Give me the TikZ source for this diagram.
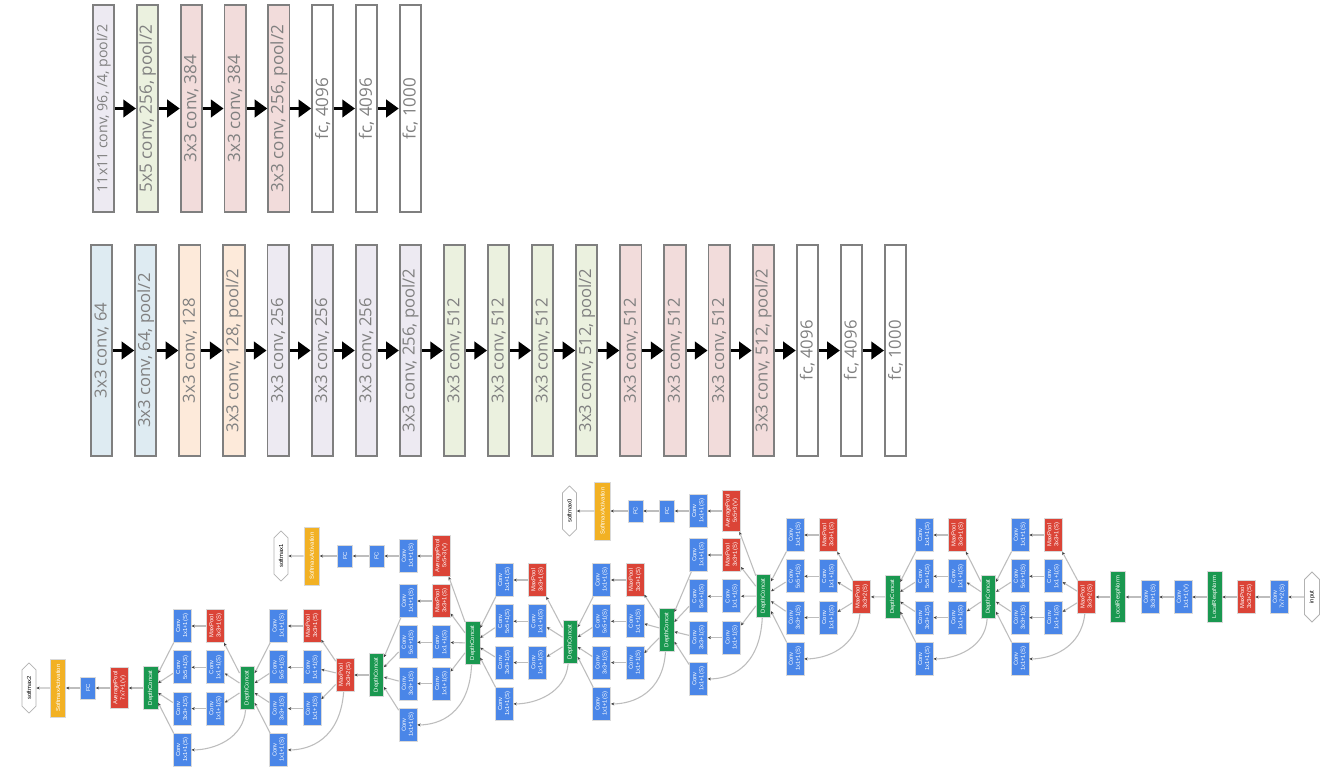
\documentclass[tikz,border=0pt]{standalone}
\usepackage{fontspec}
\setmainfont{Open Sans}
\newfontfamily\gf{Liberation Sans}
\usetikzlibrary{arrows.meta,shapes.misc}
\definecolor{gblue}{HTML}{4A86E8}
\definecolor{gred}{HTML}{DB4437}
\definecolor{ggreen}{HTML}{1A9850}
\definecolor{gyellow}{HTML}{F2B124}
\definecolor{cLav}{HTML}{EDEAF2}
\definecolor{cGrn}{HTML}{EBF1DF}
\definecolor{cPnk}{HTML}{F2DCDB}
\definecolor{cBlu}{HTML}{DEEBF2}
\definecolor{cOrg}{HTML}{FDEADA}
\definecolor{bord}{HTML}{7F7F7F}
\definecolor{txt}{HTML}{808080}
\definecolor{edgec}{HTML}{BDBDBD}
\newcommand\incep[5]{%
  \node[mpool] (#1m) at (#3,#4) {MaxPool\\3x3+1(S)};
  \node[conv] (#1p) at (#3,{#4+41.3}) {Conv\\1x1+1(S)};
  \node[conv] (#1q) at (#3,{#4+82.6}) {Conv\\1x1+1(S)};
  \node[conv] (#1a) at ({#3-33.3},#4) {Conv\\1x1+1(S)};
  \node[conv] (#1b) at ({#3-33.3},{#4+41.3}) {Conv\\5x5+1(S)};
  \node[conv] (#1c) at ({#3-33.3},{#4+82.6}) {Conv\\3x3+1(S)};
  \node[conv] (#1d) at ({#3-33.3},{#4+123.9}) {Conv\\1x1+1(S)};
  \node[dcat] (#1o) at ({#3-64.9},#5) {DepthConcat};
  \draw[edge] (#2) -- (#1m);
  \draw[edge] (#2) -- (#1p);
  \draw[edge] (#2) -- (#1q);
  \draw[edge] (#2) .. controls ({#3+28},{#4+113}) and ({#3-2},{#4+123.9}) .. (#1d);
  \draw[edge] (#1m) -- (#1a);
  \draw[edge] (#1p) -- (#1b);
  \draw[edge] (#1q) -- (#1c);
  \draw[edge] (#1a) -- (#1o);
  \draw[edge] (#1b) -- (#1o);
  \draw[edge] (#1c) -- (#1o);
  \draw[edge] (#1d) -- (#1o);
}
\begin{document}
\begin{tikzpicture}[x=0.75pt,y=-0.75pt,
  layer/.style={rotate=90, draw=bord, line width=1.4pt, text=txt, inner sep=0pt, minimum height=15.9pt},
  alex/.style={layer, minimum width=155.4pt, font=\fontsize{12.8}{14}\selectfont},
  vgg/.style={layer, minimum width=158.3pt, font=\fontsize{12.5}{14}\selectfont},
  bigarrow/.style={line width=2.6pt, -{Triangle[length=9.5pt,width=13pt]}},
  g/.style={rotate=90, inner sep=0pt, align=center, text=white, draw=black!15, line width=0.5pt, font=\gf\fontsize{4.4}{5.3}\selectfont},
  conv/.style={g, fill=gblue, minimum width=24.75pt, minimum height=13.5pt},
  mpool/.style={conv, fill=gred},
  apool/.style={g, fill=gred, minimum width=30.75pt, minimum height=13.5pt},
  dcat/.style={g, fill=ggreen, minimum width=32.25pt, minimum height=10.9pt},
  lrn/.style={g, fill=ggreen, minimum width=38.25pt, minimum height=11.25pt},
  fcn/.style={g, fill=gblue, minimum width=16.5pt, minimum height=11.25pt},
  sact/.style={g, fill=gyellow, minimum width=43.5pt, minimum height=11.6pt},
  smax/.style={g, chamfered rectangle, chamfered rectangle xsep=3pt, fill=white, draw=black!30, line width=0.6pt, text=black, minimum width=37.5pt, minimum height=10.5pt},
  edge/.style={draw=edgec, line width=0.8pt, -{Stealth[length=2.4pt,width=2.2pt,color=black!75]}},
]
\useasboundingbox (0,0) rectangle (1330,779);
\fill[white] (0,0) rectangle (1330,779);
% ---------- AlexNet ----------
\node[alex, fill=cLav, font=\fontsize{10.6}{12}\selectfont] (al1) at (103.7,108.5) {11x11 conv, 96, /4, pool/2};
\node[alex, fill=cGrn] (al2) at (147.5,108.5) {5x5 conv, 256, pool/2};
\node[alex, fill=cPnk] (al3) at (191.3,108.5) {3x3 conv, 384};
\node[alex, fill=cPnk] (al4) at (235.1,108.5) {3x3 conv, 384};
\node[alex, fill=cPnk] (al5) at (278.9,108.5) {3x3 conv, 256, pool/2};
\node[alex, fill=white] (al6) at (322.7,108.5) {fc, 4096};
\node[alex, fill=white] (al7) at (366.5,108.5) {fc, 4096};
\node[alex, fill=white] (al8) at (410.3,108.5) {fc, 1000};
\foreach \i [evaluate=\i as \j using int(\i+1)] in {1,...,7} \draw[bigarrow] (al\i) -- (al\j);
% ---------- VGG ----------
\node[vgg, fill=cBlu] (vg1) at (101.7,350.5) {3x3 conv, 64};
\node[vgg, fill=cBlu] (vg2) at (145.8,350.5) {3x3 conv, 64, pool/2};
\node[vgg, fill=cOrg] (vg3) at (189.9,350.5) {3x3 conv, 128};
\node[vgg, fill=cOrg] (vg4) at (234.0,350.5) {3x3 conv, 128, pool/2};
\node[vgg, fill=cLav] (vg5) at (278.1,350.5) {3x3 conv, 256};
\node[vgg, fill=cLav] (vg6) at (322.2,350.5) {3x3 conv, 256};
\node[vgg, fill=cLav] (vg7) at (366.3,350.5) {3x3 conv, 256};
\node[vgg, fill=cLav] (vg8) at (410.4,350.5) {3x3 conv, 256, pool/2};
\node[vgg, fill=cGrn] (vg9) at (454.5,350.5) {3x3 conv, 512};
\node[vgg, fill=cGrn] (vg10) at (498.6,350.5) {3x3 conv, 512};
\node[vgg, fill=cGrn] (vg11) at (542.7,350.5) {3x3 conv, 512};
\node[vgg, fill=cGrn] (vg12) at (586.8,350.5) {3x3 conv, 512, pool/2};
\node[vgg, fill=cPnk] (vg13) at (630.9,350.5) {3x3 conv, 512};
\node[vgg, fill=cPnk] (vg14) at (675.0,350.5) {3x3 conv, 512};
\node[vgg, fill=cPnk] (vg15) at (719.1,350.5) {3x3 conv, 512};
\node[vgg, fill=cPnk] (vg16) at (763.2,350.5) {3x3 conv, 512, pool/2};
\node[vgg, fill=white] (vg17) at (807.3,350.5) {fc, 4096};
\node[vgg, fill=white] (vg18) at (851.4,350.5) {fc, 4096};
\node[vgg, fill=white] (vg19) at (895.5,350.5) {fc, 1000};
\foreach \i [evaluate=\i as \j using int(\i+1)] in {1,...,18} \draw[bigarrow] (vg\i) -- (vg\j);
% ---------- GoogLeNet stem ----------
\node[smax] (inp) at (1312,597) {input};
\node[conv] (s1) at (1279,597) {Conv\\7x7+2(S)};
\node[mpool] (s2) at (1246,597) {MaxPool\\3x3+2(S)};
\node[lrn] (s3) at (1214.5,597) {LocalRespNorm};
\node[conv] (s4) at (1183,597) {Conv\\1x1+1(V)};
\node[conv] (s5) at (1150,597) {Conv\\3x3+1(S)};
\node[lrn] (s6) at (1118,597) {LocalRespNorm};
\node[mpool] (s7) at (1086.5,597) {MaxPool\\3x3+2(S)};
\draw[edge] (inp) -- (s1);
\draw[edge] (s1) -- (s2);
\draw[edge] (s2) -- (s3);
\draw[edge] (s3) -- (s4);
\draw[edge] (s4) -- (s5);
\draw[edge] (s5) -- (s6);
\draw[edge] (s6) -- (s7);
% ---------- inception modules ----------
\incep{mA}{s7}{1053.3}{535}{596.7}
\incep{mB}{mAo}{957.5}{535}{596.7}
\node[mpool] (p3) at (861.7,597) {MaxPool\\3x3+2(S)};
\draw[edge] (mBo) -- (p3);
\incep{mC}{p3}{828.3}{535}{596}
\incep{mD}{mCo}{731.7}{555}{630}
\incep{mE}{mDo}{635}{580}{642}
\incep{mF}{mEo}{537.5}{580}{643}
\incep{mG}{mFo}{441.3}{601}{675}
\node[mpool] (p4) at (345,675) {MaxPool\\3x3+2(S)};
\draw[edge] (mGo) -- (p4);
\incep{mH}{p4}{312}{626}{688}
\incep{mI}{mHo}{215.5}{626}{688}
% ---------- final classifier ----------
\node[apool] (fa) at (119.5,688) {AveragePool\\7x7+1(V)};
\node[fcn] (ff) at (88,688) {FC};
\node[sact] (fs) at (58,688) {SoftmaxActivation};
\node[smax] (fm) at (29,688) {softmax2};
\draw[edge] (mIo) -- (fa);
\draw[edge] (fa) -- (ff);
\draw[edge] (ff) -- (fs);
\draw[edge] (fs) -- (fm);
% ---------- auxiliary classifier 0 ----------
\node[apool] (xa) at (731.7,511) {AveragePool\\5x5+3(V)};
\node[conv] (xc) at (698.3,511) {Conv\\1x1+1(S)};
\node[fcn] (xf1) at (667,511) {FC};
\node[fcn] (xf2) at (635.5,511) {FC};
\node[sact] (xs) at (602.5,511) {SoftmaxActivation};
\node[smax] (xm) at (569.5,511) {softmax0};
\draw[edge] (mCo) -- (xa);
\draw[edge] (xa) -- (xc);
\draw[edge] (xc) -- (xf1);
\draw[edge] (xf1) -- (xf2);
\draw[edge] (xf2) -- (xs);
\draw[edge] (xs) -- (xm);
% ---------- auxiliary classifier 1 ----------
\node[apool] (ya) at (441.3,556) {AveragePool\\5x5+3(V)};
\node[conv] (yc) at (408,556) {Conv\\1x1+1(S)};
\node[fcn] (yf1) at (376.7,556) {FC};
\node[fcn] (yf2) at (345,556) {FC};
\node[sact] (ys) at (311.7,556) {SoftmaxActivation};
\node[smax] (ym) at (281,556) {softmax1};
\draw[edge] (mFo) -- (ya);
\draw[edge] (ya) -- (yc);
\draw[edge] (yc) -- (yf1);
\draw[edge] (yf1) -- (yf2);
\draw[edge] (yf2) -- (ys);
\draw[edge] (ys) -- (ym);
\end{tikzpicture}
\end{document}
